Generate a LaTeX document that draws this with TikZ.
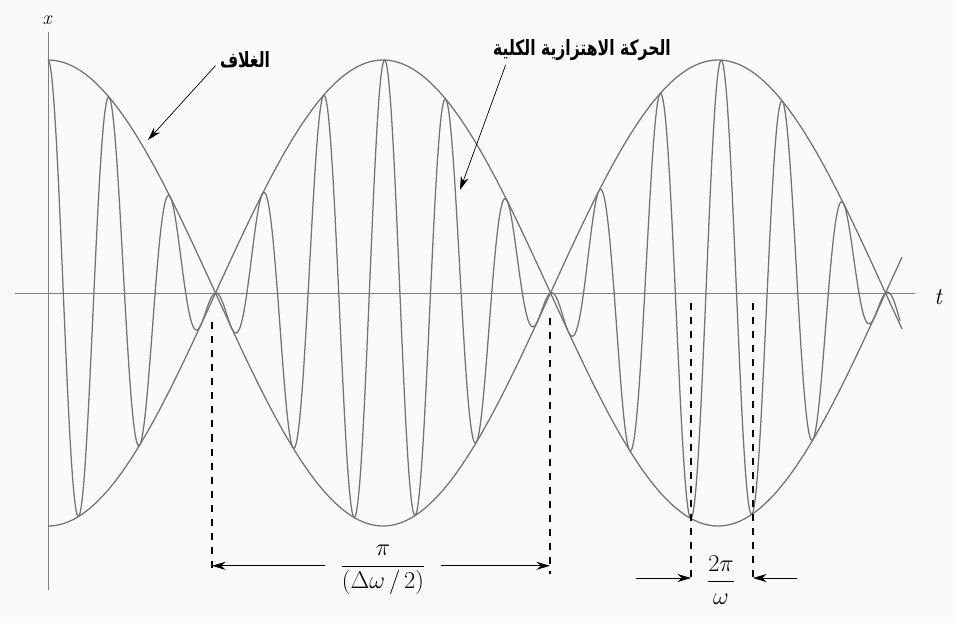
\documentclass[tikz,border=0pt]{standalone}
\usepackage{amsmath}
\usepackage{fontspec}
\newfontfamily\arabicfont[Script=Arabic,FakeStretch=0.74]{DejaVu Sans}
\TeXXeTstate=1
\usetikzlibrary{arrows.meta}

\begin{document}
\begin{tikzpicture}[x=0.25mm,y=-0.25mm,
  crv/.style={draw=gray!90!black,line width=0.9pt},
  ax/.style={draw=gray,line width=0.7pt},
  dsh/.style={draw=black,line width=0.9pt,dash pattern=on 5pt off 5pt},
  arr/.style={-{Stealth[length=3.4mm,width=2mm]},line width=0.5pt},
  lbl/.style={font=\arabicfont\bfseries\fontsize{15}{17}\selectfont,inner sep=1pt},
  frac/.style={font=\fontsize{17}{20}\selectfont,inner sep=1pt}]
  \fill[gray!4] (0,0) rectangle (956,623);
  \useasboundingbox (0,0) rectangle (956,623);
  % axes
  \draw[ax] (48,590) -- (48,32);
  \draw[ax] (15,293) -- (915,293);
  \node[font=\itshape\fontsize{14}{16}\selectfont] (xl) at (47,20) {x};
  \node[font=\itshape\fontsize{17}{20}\selectfont] (tl) at (938,297) {t};
  % envelope, both branches
  \draw[crv] plot[domain=48:902,samples=300] (\x,{293-233*cos((\x-48)*0.5373)});
  \draw[crv] plot[domain=48:902,samples=300] (\x,{293+233*cos((\x-48)*0.5373)});
  % full oscillation inside the envelope
  \draw[crv] plot[domain=48:900,samples=900]
    (\x,{293-233*cos((\x-48)*0.5373)*cos((\x-48)*5.882)});
  % beat period
  \coordinate (lA) at (212,322);
  \coordinate (lB) at (550,318);
  \draw[dsh] (lA) -- (212,574);
  \draw[dsh] (lB) -- (550,574);
  \node[frac] (beat) at (383,570) {$\dfrac{\pi}{(\Delta\omega\,/\,2)}$};
  \draw[arr] ([xshift=-10pt,yshift=3pt]beat.west) -- ([yshift=3pt]beat.west -| lA);
  \draw[arr] ([xshift=10pt,yshift=3pt]beat.east) -- ([yshift=3pt]beat.east -| lB);
  % carrier period
  \coordinate (cA) at (691,303);
  \coordinate (cB) at (753,303);
  \draw[dsh] (cA) -- (691,584);
  \draw[dsh] (cB) -- (753,584);
  \node[frac] (carr) at (721,580) {$\dfrac{2\pi}{\omega}$};
  \coordinate (cL) at (636,578);
  \coordinate (cR) at (797,578);
  \draw[arr] (cL) -- (cL -| cA);
  \draw[arr] (cR) -- (cR -| cB);
  % labels
  \node[lbl] (env) at (245,60) {\beginR الغلاف\endR};
  \coordinate (envpt) at (148,140);
  \draw[arr] ([xshift=-2pt,yshift=-4pt]env.west) -- (envpt);
  \node[lbl] (tot) at (582,50) {\beginR الحركة الاهتزازية الكلية\endR};
  \coordinate (totpt) at (460,190);
  \draw[arr] ([xshift=10pt,yshift=-2pt]tot.south west) -- (totpt);
\end{tikzpicture}
\end{document}
